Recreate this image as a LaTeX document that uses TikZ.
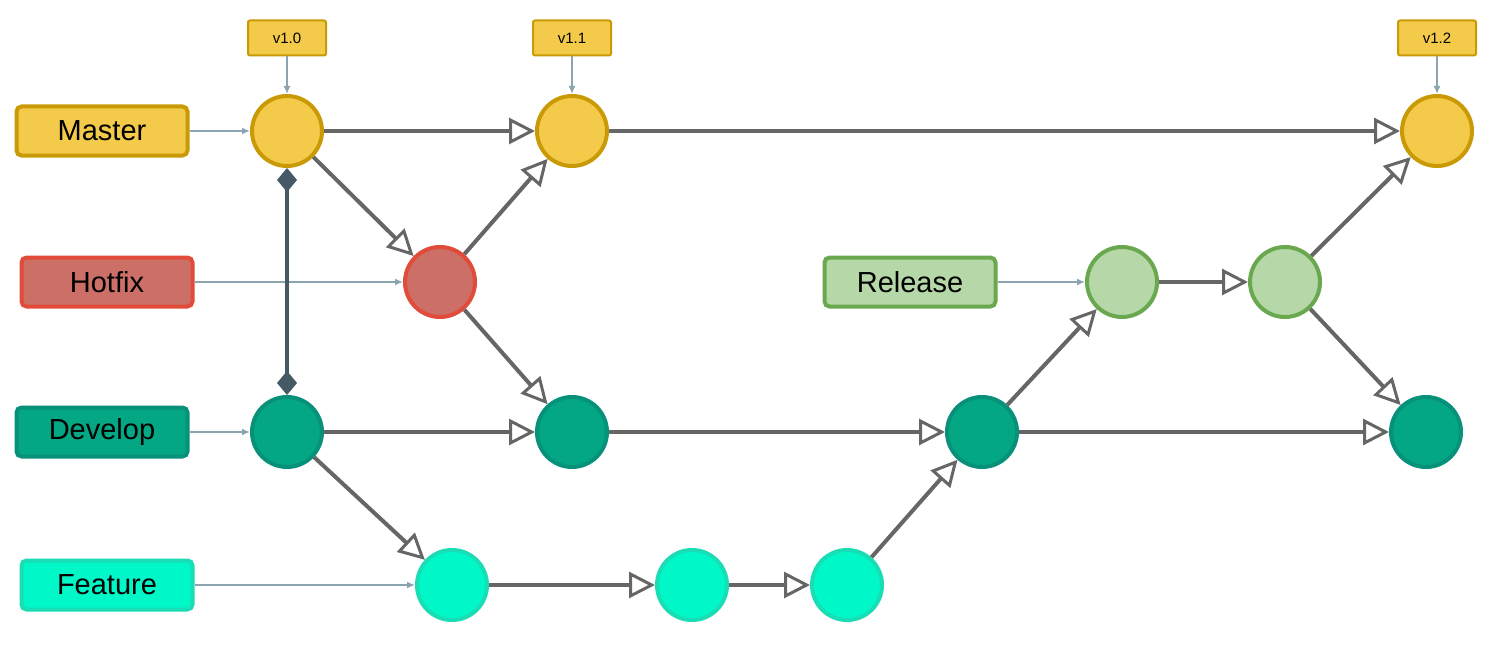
\documentclass[tikz,border=0pt]{standalone}
\usepackage{fontspec}
\setmainfont{Liberation Sans}
\usetikzlibrary{arrows.meta}

\definecolor{masterfill}{HTML}{F4CA4B}
\definecolor{masterline}{HTML}{C99A06}
\definecolor{hotfill}{HTML}{CC6F66}
\definecolor{hotline}{HTML}{E04B3A}
\definecolor{relfill}{HTML}{B6D7A8}
\definecolor{relline}{HTML}{6AA84F}
\definecolor{devfill}{HTML}{04A784}
\definecolor{devline}{HTML}{07917A}
\definecolor{featfill}{HTML}{00F8C8}
\definecolor{featline}{HTML}{19DDB4}
\definecolor{edgegray}{HTML}{666666}
\definecolor{pointcol}{HTML}{8CA3B0}
\definecolor{slate}{HTML}{455A64}

\begin{document}
\begin{tikzpicture}[x=1pt, y=-1pt,
    commit/.style={circle, minimum size=70pt, inner sep=0pt, line width=4pt},
    branch/.style={rectangle, rounded corners=5pt, minimum width=171pt, minimum height=49pt,
        line width=4pt, font=\fontsize{29}{33}\selectfont},
    tagbox/.style={rectangle, rounded corners=2pt, minimum width=78pt, minimum height=35pt,
        line width=2pt, fill=masterfill, draw=masterline, font=\fontsize{15}{18}\selectfont},
    flow/.style={draw=edgegray, line width=4pt, -{Triangle[open, length=26pt, width=26pt, line width=3pt]}},
    pointer/.style={draw=pointcol, line width=1.5pt, -{Latex[length=8pt, width=7pt]}}]

    \useasboundingbox (0,0) rectangle (1498,650);

    % branch labels
    \node[branch, fill=masterfill, draw=masterline] (master) at (102,131) {Master};
    \node[branch, fill=hotfill, draw=hotline] (hotfix) at (107,282) {Hotfix};
    \node[branch, fill=relfill, draw=relline] (release) at (910,282) {Release};
    \node[branch, fill=devfill, draw=devline] (develop) at (102,432) {Develop};
    \node[branch, fill=featfill, draw=featline] (feature) at (107,585) {Feature};

    % commits
    \node[commit, fill=masterfill, draw=masterline] (m1) at (287,131) {};
    \node[commit, fill=masterfill, draw=masterline] (m2) at (572,131) {};
    \node[commit, fill=masterfill, draw=masterline] (m3) at (1437,131) {};
    \node[commit, fill=hotfill, draw=hotline] (h1) at (440,282) {};
    \node[commit, fill=relfill, draw=relline] (r1) at (1122,282) {};
    \node[commit, fill=relfill, draw=relline] (r2) at (1285,282) {};
    \node[commit, fill=devfill, draw=devline] (d1) at (287,432) {};
    \node[commit, fill=devfill, draw=devline] (d2) at (572,432) {};
    \node[commit, fill=devfill, draw=devline] (d3) at (982,432) {};
    \node[commit, fill=devfill, draw=devline] (d4) at (1426,432) {};
    \node[commit, fill=featfill, draw=featline] (f1) at (452,585) {};
    \node[commit, fill=featfill, draw=featline] (f2) at (692,585) {};
    \node[commit, fill=featfill, draw=featline] (f3) at (847,585) {};

    % tags
    \node[tagbox] (t10) at (287,38) {v1.0};
    \node[tagbox] (t11) at (572,38) {v1.1};
    \node[tagbox] (t12) at (1437,38) {v1.2};

    % pointers
    \draw[pointer] (master) -- (m1);
    \draw[pointer] (hotfix) -- (h1);
    \draw[pointer] (release) -- (r1);
    \draw[pointer] (develop) -- (d1);
    \draw[pointer] (feature) -- (f1);
    \draw[pointer] (t10) -- (m1);
    \draw[pointer] (t11) -- (m2);
    \draw[pointer] (t12) -- (m3);

    % history
    \draw[flow] (m1) -- (m2);
    \draw[flow] (m2) -- (m3);
    \draw[flow] (m1) -- (h1);
    \draw[flow] (h1) -- (m2);
    \draw[flow] (h1) -- (d2);
    \draw[flow] (d1) -- (d2);
    \draw[flow] (d2) -- (d3);
    \draw[flow] (d3) -- (d4);
    \draw[flow] (d1) -- (f1);
    \draw[flow] (f1) -- (f2);
    \draw[flow] (f2) -- (f3);
    \draw[flow] (f3) -- (d3);
    \draw[flow] (d3) -- (r1);
    \draw[flow] (r1) -- (r2);
    \draw[flow] (r2) -- (m3);
    \draw[flow] (r2) -- (d4);

    \draw[slate, line width=4pt, {Diamond[length=24pt, width=20pt]}-{Diamond[length=24pt, width=20pt]}] (m1) -- (d1);
\end{tikzpicture}
\end{document}
